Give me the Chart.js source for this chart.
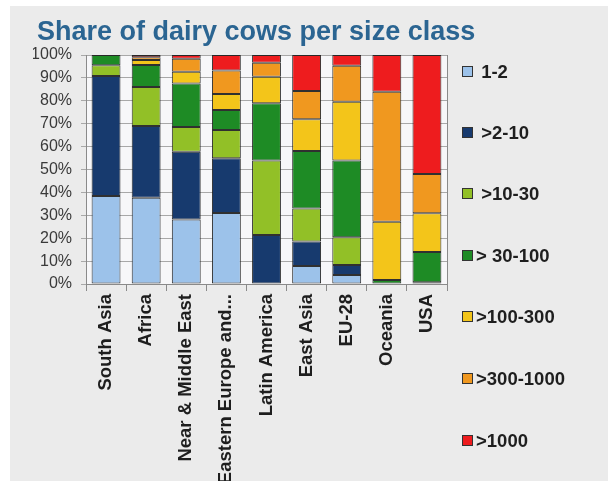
<!DOCTYPE html>
<html>
<head>
<meta charset="utf-8">
<title>Share of dairy cows per size class</title>
<script src="https://cdn.jsdelivr.net/npm/chart.js@4.4.1/dist/chart.umd.min.js"></script>
<style>
    body {
        margin: 0;
        background: #ffffff;
        font-family: "Liberation Sans", Arial, sans-serif;
    }
    #panel {
        position: absolute;
        left: 10px;
        top: 6px;
        width: 598px;
        height: 475px;
        background: #ebebeb;
    }
    #myChart {
        position: absolute;
        left: 0;
        top: 0;
    }
    #legend {
        position: absolute;
        left: 462px;
        top: 0;
        margin: 0;
        padding: 0;
        list-style: none;
    }
    #legend li {
        position: absolute;
        left: 0;
        white-space: pre;
        font-weight: bold;
        font-size: 18.5px;
        color: #1e1e1e;
        line-height: 20px;
        height: 20px;
    }
    #legend .box {
        display: inline-block;
        width: 9px;
        height: 9px;
        border: 1px solid #333;
        margin-right: 3px;
        vertical-align: 1px;
    }
</style>
</head>
<body>
<div id="panel"></div>
<canvas id="myChart" width="608" height="481"></canvas>
<ul id="legend"></ul>

<script>
const chartTitle = 'Share of dairy cows per size class';
const regions = ['South Asia', 'Africa', 'Near & Middle East', 'Eastern Europe and...', 'Latin America',
    'East Asia', 'EU-28', 'Oceania', 'USA'];

// share of cows (%) in each herd size class, per region
const size1to2 = [38.4, 37.7, 28.2, 31.0, 0, 7.9, 3.9, 0, 0];
const size2to10 = [52.4, 31.3, 29.6, 23.9, 21.4, 10.7, 4.4, 0, 0];
const size10to30 = [4.7, 17.0, 10.8, 12.3, 32.5, 14.4, 12.1, 0, 0.8];
const size30to100 = [4.5, 9.6, 19.0, 8.8, 25.0, 25.1, 33.5, 1.7, 13.2];
const size100to300 = [0, 2.2, 5.1, 7.0, 11.6, 13.8, 25.7, 25.5, 16.9];
const size300to1000 = [0, 1.2, 5.7, 10.2, 6.1, 12.4, 15.7, 56.8, 17.1];
const size1000plus = [0, 1.0, 1.6, 6.8, 3.4, 15.7, 4.7, 16.0, 52.0];

const classNames = [' 1-2', ' >2-10', ' >10-30', '> 30-100', '>100-300', '>300-1000', '>1000'];
const classColors = ['#9cc2ea', '#173a6e', '#92c027', '#1e8b25', '#f3c51a', '#f0981f', '#ee1c1e'];
const yTicks = [0, 10, 20, 30, 40, 50, 60, 70, 80, 90, 100];

const seriesData = [size1to2, size2to10, size10to30, size30to100, size100to300, size300to1000, size1000plus];
const legendY = [72, 133, 194, 256, 317, 379, 441];

const fontFamily = '"Liberation Sans", Arial, sans-serif';

// light plot background, the right frame line and the heading
// (heading drawn by hand: the title plugin squeezes it to the plot width)
const plotFrame = {
    id: 'plotFrame',
    beforeDraw(chart) {
        const a = chart.chartArea;
        const ctx = chart.ctx;
        ctx.save();
        ctx.fillStyle = '#f7f7f9';
        ctx.fillRect(a.left, a.top, a.right - a.left, a.bottom - a.top);
        ctx.restore();
    },
    afterDraw(chart) {
        const a = chart.chartArea;
        const ctx = chart.ctx;
        ctx.save();
        ctx.strokeStyle = '#8a8a8a';
        ctx.lineWidth = 1;
        ctx.beginPath();
        ctx.moveTo(Math.round(a.right) + 0.5, a.top);
        ctx.lineTo(Math.round(a.right) + 0.5, a.bottom);
        ctx.stroke();

        ctx.fillStyle = '#2b6592';
        ctx.font = 'bold 27px ' + fontFamily;
        ctx.textAlign = 'left';
        ctx.textBaseline = 'middle';
        ctx.fillText(chartTitle, 37, 33);
        ctx.restore();
    }
};

function buildDatasets() {
    return seriesData.map((values, i) => ({
        label: classNames[i],
        data: values,
        backgroundColor: classColors[i],
        borderColor: 'rgba(25, 25, 25, 0.9)',
        borderWidth: 1,
        borderSkipped: false,
        barPercentage: 0.72,
        categoryPercentage: 1
    }));
}

function buildLegend(chart) {
    const list = document.getElementById('legend');
    chart.data.datasets.forEach((ds, i) => {
        let li = document.createElement('li');
        li.style.top = (legendY[i] - 10) + 'px';
        let box = document.createElement('span');
        box.className = 'box';
        box.style.background = ds.backgroundColor;
        li.appendChild(box);
        li.appendChild(document.createTextNode(ds.label));
        list.appendChild(li);
    });
}

const ctx = document.getElementById('myChart').getContext('2d');
const chart = new Chart(ctx, {
    type: 'bar',
    data: {
        labels: regions,
        datasets: buildDatasets()
    },
    options: {
        responsive: false,
        animation: false,
        devicePixelRatio: 1,
        layout: {
            padding: { left: 33, right: 161, top: 55, bottom: 0 }
        },
        scales: {
            x: {
                stacked: true,
                offset: true,
                grid: {
                    drawOnChartArea: false,
                    color: '#8a8a8a',
                    tickLength: 7
                },
                border: { color: '#8a8a8a' },
                ticks: {
                    minRotation: 90,
                    maxRotation: 90,
                    autoSkip: false,
                    padding: 3,
                    color: '#1e1e1e',
                    font: { family: fontFamily, size: 18.5, weight: 'bold' }
                },
                afterFit: function (scale) {
                    scale.height = 197;
                }
            },
            y: {
                stacked: true,
                min: 0,
                max: 100,
                afterBuildTicks: function (scale) {
                    scale.ticks = yTicks.map(v => ({ value: v }));
                },
                grid: {
                    color: '#a8a8a8',
                    tickLength: 5
                },
                border: { color: '#8a8a8a' },
                ticks: {
                    padding: 9,
                    color: '#3a3a3a',
                    font: { family: fontFamily, size: 16 },
                    callback: function (value) {
                        return value + '%';
                    }
                },
                afterFit: function (scale) {
                    scale.width = 53;
                }
            }
        },
        plugins: {
            legend: { display: false },
            tooltip: { enabled: false },
            title: { display: false }
        }
    },
    plugins: [plotFrame]
});

buildLegend(chart);
</script>
</body>
</html>
